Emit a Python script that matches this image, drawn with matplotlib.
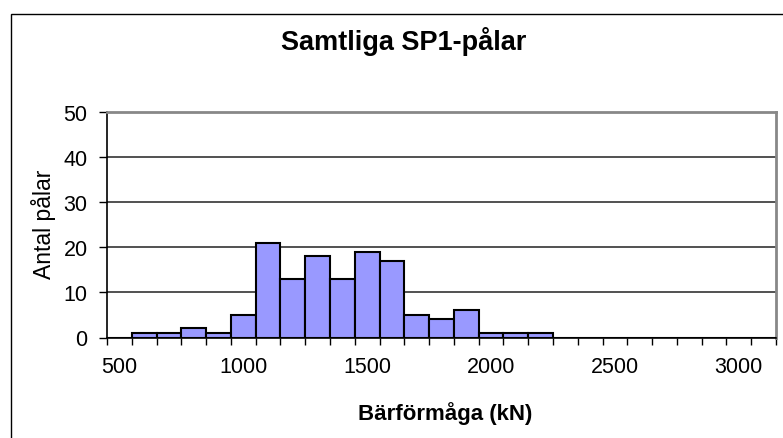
import numpy as np
import matplotlib
matplotlib.use("Agg")
import matplotlib.pyplot as plt
from matplotlib import rcParams
from matplotlib.patches import Rectangle

rcParams["font.family"] = ["Liberation Sans", "DejaVu Sans"]

# Histogram data: load capacity classes (kN) and number of piles
klasser = [500, 600, 700, 800, 900, 1000, 1100, 1200, 1300, 1400, 1500,
           1600, 1700, 1800, 1900, 2000, 2100, 2200, 2300, 2400, 2500,
           2600, 2700, 2800, 2900, 3000, 3100]
antal = [0, 1, 1, 2, 1, 5, 21, 13, 18, 13, 19, 17, 5, 4, 6, 1, 1, 1,
         0, 0, 0, 0, 0, 0, 0, 0, 0]
x_labels = [500, 1000, 1500, 2000, 2500, 3000]
y_ticks = [0, 10, 20, 30, 40, 50]

W, H = 783, 439
fig = plt.figure(figsize=(W / 100, H / 100), dpi=100)

# outer chart frame (only top and left visible in the crop)
fig.patches.append(Rectangle((11 / W, -0.1), 1.2, 1 - 15 / H + 0.1,
                             transform=fig.transFigure, fill=False,
                             edgecolor="black", lw=1.0, zorder=0))

left, right = 107 / W, 776 / W
bottom, top = 1 - 338.5 / H, 1 - 112.7 / H
ax = fig.add_axes([left, bottom, right - left, top - bottom])

ax.bar(klasser, antal, width=100, color="#9999FF", edgecolor="black",
       linewidth=1.5, zorder=3)

step = klasser[1] - klasser[0]
ax.set_xlim(klasser[0] - step / 2, klasser[-1] + step / 2)
ax.set_ylim(y_ticks[0], y_ticks[-1])

# category boundaries get the tick marks, labels sit between them
edges = np.arange(klasser[0] - step / 2, klasser[-1] + step, step)
ax.set_xticks(edges)
ax.set_xticklabels([])
ax.set_xticks(x_labels, minor=True)
ax.set_xticklabels([str(v) for v in x_labels], minor=True)
ax.tick_params(axis="x", which="major", length=5, width=1, color="black",
               direction="out")
ax.tick_params(axis="x", which="minor", length=0, pad=13, labelsize=15.5)

ax.set_yticks(y_ticks)
ax.tick_params(axis="y", length=6, width=1, color="black", direction="out",
               pad=8, labelsize=15.5)

ax.yaxis.grid(True, color="#222222", lw=1.1, zorder=1)
ax.set_axisbelow(True)

ax.spines["left"].set_color("black")
ax.spines["bottom"].set_color("black")
ax.spines["left"].set_linewidth(1.2)
ax.spines["bottom"].set_linewidth(1.2)
ax.spines["top"].set_color("#888888")
ax.spines["right"].set_color("#888888")
ax.spines["top"].set_linewidth(2)
ax.spines["right"].set_linewidth(2)

fig.text(404 / W, 1 - 41 / H, "Samtliga SP1-pålar", ha="center", va="center",
         fontsize=19.5, fontweight="bold")
fig.text(445 / W, 1 - 414 / H, "Bärförmåga (kN)", ha="center", va="center",
         fontsize=16, fontweight="bold")
fig.text(44 / W, 1 - 224 / H, "Antal pålar", ha="center", va="center",
         rotation=90, fontsize=16.5)

plt.savefig("out.png", dpi=100)
plt.close()
